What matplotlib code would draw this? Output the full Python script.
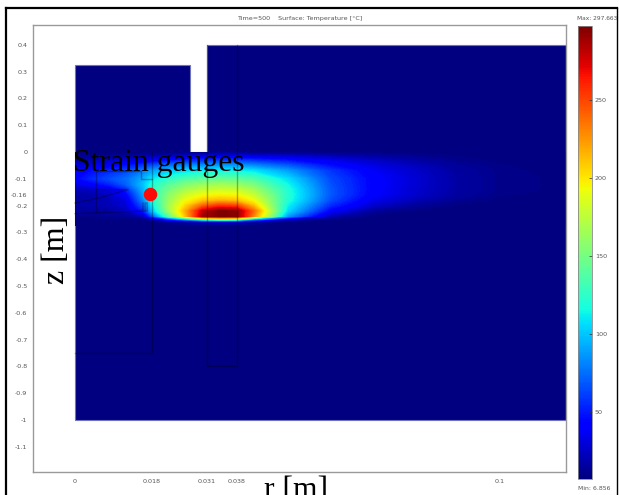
import matplotlib
matplotlib.use("Agg")
import matplotlib.pyplot as plt
import numpy as np
from matplotlib.lines import Line2D

W, H = 619, 495
T_MIN, T_MAX = 6.856, 297.663

x_ticks = [0, 0.018, 0.031, 0.038, 0.1]
x_tick_labels = ["0", "0.018", "0.031", "0.038", "0.1"]
y_ticks = [0.4, 0.3, 0.2, 0.1, 0, -0.1, -0.16, -0.2, -0.3, -0.4, -0.5, -0.6, -0.7, -0.8, -0.9, -1, -1.1]
y_tick_labels = ["0.4", "0.3", "0.2", "0.1", "0", "-0.1", "-0.16", "-0.2", "-0.3", "-0.4", "-0.5", "-0.6",
                 "-0.7", "-0.8", "-0.9", "-1", "-1.1"]
cbar_ticks = [50, 100, 150, 200, 250]

domain_r = [0, 0, 0.027, 0.027, 0.031, 0.031, 0.1155, 0.1155]
domain_z = [-1, 0.325, 0.325, 0, 0, 0.4, 0.4, -1]

grid_r = [0, .004, .008, .012, .016, .018, .022, .026, .03, .034, .038, .042, .05, .06, .07, .08, .09, .1, .1155]
grid_z = [0, -.01, -.03, -.05, -.07, -.10, -.12, -.14, -.16, -.18, -.20, -.22, -.24, -.25, -.26, -.275]
temperature = [
    [7, 7, 7, 7, 7, 7, 7, 7, 7, 7, 7, 7, 7, 7, 7, 7, 7, 7, 7],
    [10, 10, 10, 11, 12, 13, 15, 18, 22, 24, 24, 22, 20, 16, 13, 10, 8, 7, 7],
    [16, 20, 22, 26, 32, 36, 44, 50, 54, 58, 58, 54, 46, 34, 24, 16, 10, 8, 7],
    [26, 32, 38, 46, 58, 64, 74, 80, 84, 86, 86, 82, 68, 46, 32, 22, 13, 9, 7],
    [36, 46, 54, 62, 78, 88, 100, 106, 110, 112, 112, 108, 88, 58, 38, 26, 15, 10, 7],
    [42, 54, 64, 74, 92, 108, 124, 134, 140, 143, 142, 135, 106, 64, 42, 28, 16, 10, 8],
    [32, 40, 52, 70, 98, 118, 138, 152, 160, 163, 160, 150, 114, 66, 42, 28, 16, 10, 8],
    [20, 24, 32, 52, 94, 122, 148, 166, 176, 180, 178, 165, 120, 68, 42, 27, 16, 10, 8],
    [16, 18, 24, 40, 88, 122, 156, 180, 192, 196, 194, 178, 122, 68, 40, 26, 15, 9, 7],
    [16, 18, 22, 32, 80, 116, 160, 192, 208, 214, 210, 192, 120, 64, 34, 20, 11, 8, 7],
    [16, 18, 20, 28, 66, 106, 165, 205, 240, 255, 250, 212, 112, 54, 26, 13, 8, 7, 7],
    [14, 15, 16, 22, 50, 94, 162, 218, 278, 297, 293, 238, 105, 40, 13, 8, 7, 7, 7],
    [10, 10, 11, 12, 20, 60, 135, 212, 288, 297, 295, 230, 85, 20, 8, 7, 7, 7, 7],
    [8, 8, 8, 8, 10, 20, 55, 100, 150, 170, 165, 95, 28, 10, 7, 7, 7, 7, 7],
    [7, 7, 7, 7, 7, 8, 12, 18, 24, 28, 26, 16, 8, 7, 7, 7, 7, 7, 7],
    [7, 7, 7, 7, 7, 7, 7, 7, 7, 7, 7, 7, 7, 7, 7, 7, 7, 7, 7],
]

structure_lines = [
    ([0, 0.018, 0.018], [-0.75, -0.75, 0]),
    ([0.031, 0.031, 0.038, 0.038], [0.4, -0.8, -0.8, 0.4]),
    ([0.005, 0.005, 0.0155, 0.0155, 0.018], [-0.22, -0.07, -0.07, -0.10, -0.10]),
    ([0.005, 0.0125, 0.006, 0], [-0.14, -0.14, -0.17, -0.19]),
    ([0, 0.0165, 0.0165, 0.017, 0.017, 0.016, 0.016], [-0.23, -0.22, -0.19, -0.19, -0.22, -0.22, -0.19]),
]
gauge_r, gauge_z = 0.0176, -0.155

fig = plt.figure(figsize=(W / 100, H / 100), dpi=100)
plt.rcParams["font.family"] = "DejaVu Sans"


def box(l, t, r, b):
    return [l / W, 1 - b / H, (r - l) / W, (b - t) / H]


ax = fig.add_axes(box(33, 25, 566, 472))
ax.set_xlim(-0.00988, 0.1155)
ax.set_ylim(-1.194, 0.474)
cmap = plt.get_cmap("jet")
ax.fill(domain_r, domain_z, facecolor=cmap(0.0), edgecolor="#6f74b8", linewidth=0.8, zorder=1)
ax.contourf(grid_r, grid_z, np.array(temperature, float), levels=np.linspace(T_MIN, T_MAX, 150),
            cmap=cmap, vmin=T_MIN, vmax=T_MAX, zorder=2, antialiased=False)
for rr, zz in structure_lines:
    ax.plot(rr, zz, color="black", alpha=0.3, linewidth=1.0, zorder=3)
ax.scatter([gauge_r], [gauge_z], s=95, color="#fb0a0a", zorder=5, linewidths=0)

ax.set_xticks(x_ticks, x_tick_labels)
ax.set_yticks(y_ticks, y_tick_labels)
ax.tick_params(length=0, labelsize=4.6, labelcolor="#555555", pad=5)
ax.tick_params(axis="y", pad=4)
for s in ax.spines.values():
    s.set_color("#9a9a9a")
    s.set_linewidth(1.0)

fig.text(300 / W, 1 - 18.5 / H, "Time=500    Surface: Temperature [\u00b0C]", fontsize=4.6,
         color="#555555", ha="center", va="center")

serif = "Liberation Serif"
fig.text(73 / W, 1 - 163 / H, "Strain gauges", family=serif, fontsize=22.8, color="black",
         ha="left", va="center", zorder=10)
fig.text(57 / W, 1 - 250 / H, "z [m]", family=serif, fontsize=23, color="black", rotation=90,
         ha="center", va="center", zorder=10)
fig.text(296 / W, 1 - 490 / H, "r [m]", family=serif, fontsize=22.7, color="black",
         ha="center", va="center", zorder=10)

cax = fig.add_axes(box(578, 26, 592, 479))
sm = plt.cm.ScalarMappable(norm=plt.Normalize(T_MIN, T_MAX), cmap=cmap)
cb = fig.colorbar(sm, cax=cax)
cb.set_ticks(cbar_ticks)
cb.ax.tick_params(length=2, width=0.5, direction="in", color="#333333", labelsize=4.6,
                  labelcolor="#555555", pad=2)
cb.outline.set_edgecolor("#888888")
cb.outline.set_linewidth(0.6)
fig.text(597 / W, 1 - 18 / H, "Max: 297.663", fontsize=4.2, color="#555555", ha="center", va="center")
fig.text(594 / W, 1 - 488.5 / H, "Min: 6.856", fontsize=4.4, color="#555555", ha="center", va="center")

fig.add_artist(Line2D([6 / W, 6 / W], [0, 1 - 8 / H], color="black", linewidth=1.6))
fig.add_artist(Line2D([6 / W, 617 / W], [1 - 8 / H, 1 - 8 / H], color="black", linewidth=1.6))
fig.add_artist(Line2D([617 / W, 617 / W], [1 - 8 / H, 0], color="black", linewidth=1.0))

fig.savefig("out.png", dpi=100)
